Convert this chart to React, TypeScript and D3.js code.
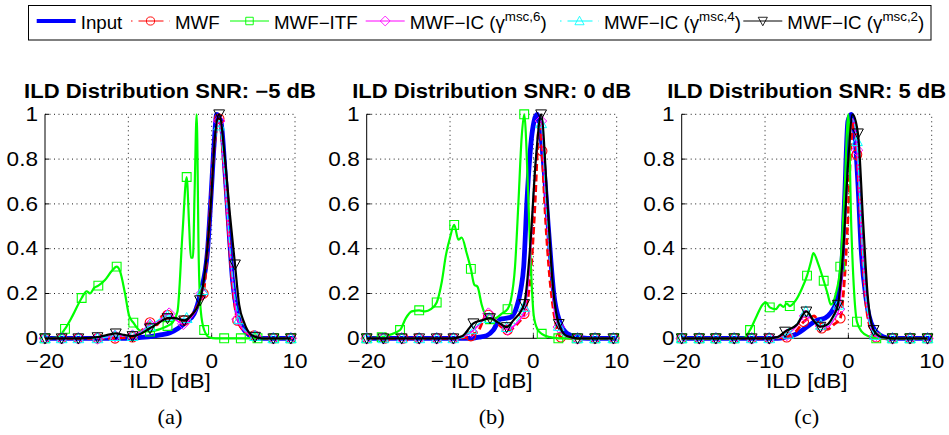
import React from 'react';
import * as d3 from 'd3';

type Pt = number[]; // [x, y, marker?]

// ---------- texts & ticks ----------
const xTickValues = [-20, -10, 0, 10];
const xTickLabels = ['\u221220', '\u221210', '0', '10'];
const yTickValues = [0, 0.2, 0.4, 0.6, 0.8, 1];
const yTickLabels = ['0', '0.2', '0.4', '0.6', '0.8', '1'];
const panelTitles = [
  'ILD Distribution SNR: \u22125 dB',
  'ILD Distribution SNR: 0 dB',
  'ILD Distribution SNR: 5 dB',
];
const panelCaptions = ['(a)', '(b)', '(c)'];
const xAxisLabel = 'ILD [dB]';
const seriesNames = ['Input', 'MWF', 'MWF\u2212ITF', 'MWF\u2212IC (\u03b3', 'MWF\u2212IC (\u03b3', 'MWF\u2212IC (\u03b3'];
const seriesSuperscripts = ['', '', '', 'msc,6', 'msc,4', 'msc,2'];

// ---------- data: panel (a) SNR -5 dB ----------  [x, y, 1 = marker]
const inputA: Pt[] = [[-20,0],[-10,0],[-9,0.002],[-8,0.005],[-7,0.01],[-6,0.016],[-5,0.025],[-4,0.045],[-3,0.075],[-2.1,0.11],[-1.3,0.21],[-0.5,0.39],[-0.1,0.62],[0.3,0.87],[0.6,1.0],[1.1,0.97],[1.7,0.69],[2.1,0.47],[2.5,0.26],[3.1,0.11],[3.9,0.037],[5.1,0.005],[6,0],[10,0]];
const mwfA: Pt[] = [[-20,0,1],[-18,0,1],[-16,0,1],[-13.7,0,1],[-11.6,0,1],[-10.5,0.003],[-9.5,0.005,1],[-8.5,0.03],[-7.4,0.07,1],[-6.6,0.06],[-5.9,0.1],[-5.3,0.104,1],[-4.5,0.09],[-3.8,0.08],[-3.3,0.08,1],[-2.5,0.1],[-1.6,0.15],[-1.0,0.2,1],[-0.4,0.45],[0.3,0.85],[0.9,0.98,1],[1.5,0.75],[2.0,0.48],[2.5,0.24],[3.1,0.08,1],[4.0,0.03],[5.1,0.012,1],[6,0.002],[7.4,0,1],[9.5,0,1],[10,0]];
const itfA: Pt[] = [[-20,0,1],[-18.6,0.003],[-17.6,0.042,1],[-16.7,0.1],[-15.6,0.18,1],[-15,0.21],[-14.6,0.2],[-14.1,0.225],[-13.6,0.235,1],[-12.8,0.26],[-12,0.3],[-11.4,0.32,1],[-11,0.3],[-10.4,0.2],[-9.9,0.1],[-9.4,0.07,1],[-8.6,0.035],[-7.4,0.03,1],[-6.3,0.04],[-5.3,0.055,1],[-4.7,0.07],[-4.1,0.12],[-3.5,0.47],[-3.0,0.72,1],[-2.7,0.5],[-2.5,0.36],[-2.25,0.36],[-2.05,0.65],[-1.8,1.0],[-1.55,0.35],[-1.3,0.12],[-0.9,0.037,1],[-0.3,0.005],[0.5,0],[1.5,0,1],[3.5,0,1],[5.5,0,1],[7.5,0,1],[9.5,0,1]];
const ic6A: Pt[] = [[-20,0,1],[-18,0,1],[-16,0,1],[-13.7,0,1],[-12.5,0.005],[-11.6,0.01,1],[-10.5,0.01],[-9.5,0.012,1],[-8.5,0.03],[-7.4,0.06,1],[-6.3,0.08],[-5.1,0.11,1],[-4.2,0.08],[-3.4,0.065,1],[-2.5,0.09],[-1.2,0.2,1],[-0.4,0.45],[0.3,0.85],[0.9,0.97,1],[1.5,0.75],[2,0.48],[2.5,0.25],[3.1,0.085,1],[4,0.03],[5.2,0.01,1],[6,0.002],[7.4,0,1],[9.5,0,1],[10,0]];
const ic4A: Pt[] = [[-20,0,1],[-18,0,1],[-16,0,1],[-13.7,0,1],[-11.6,0.01,1],[-9.5,0.01,1],[-7.4,0.055,1],[-5.3,0.1,1],[-4.2,0.085],[-3.0,0.09,1],[-2.2,0.11],[-1.1,0.215,1],[-0.4,0.45],[0.3,0.85],[0.9,0.95,1],[1.5,0.76],[2,0.5],[2.5,0.27],[3.3,0.085,1],[4,0.035],[5.2,0.01,1],[6,0.002],[7.4,0,1],[9.5,0,1]];
const ic2A: Pt[] = [[-20,0,1],[-18,0,1],[-16,0,1],[-14.5,0.002],[-13.7,0.005,1],[-12.5,0.015],[-11.5,0.022,1],[-10.5,0.015],[-9.5,0.01,1],[-8.5,0.02],[-7.4,0.045,1],[-6.3,0.07],[-5.3,0.09,1],[-4.4,0.09],[-3.3,0.08,1],[-2.5,0.1],[-1.4,0.17,1],[-0.8,0.3],[-0.1,0.6],[0.4,0.9],[0.9,1.0,1],[1.6,0.8],[2.2,0.55],[2.8,0.33,1],[3.3,0.15],[3.9,0.07],[4.6,0.02],[5.2,0.007,1],[6,0],[7.4,0,1],[9.5,0,1]];

// ---------- data: panel (b) SNR 0 dB ----------
const inputB: Pt[] = [[-20,0],[-7.5,0],[-6.5,0.005],[-5.6,0.012],[-4.8,0.037],[-4,0.085],[-3.2,0.09],[-2.7,0.095],[-2,0.14],[-1.5,0.22],[-1.16,0.32],[-0.76,0.62],[-0.16,0.915],[0.45,1.0],[1.25,0.77],[1.85,0.47],[2.45,0.2],[3.25,0.067],[4.05,0.022],[5.3,0.005],[6.5,0],[10,0]];
const mwfB: Pt[] = [[-20,0,1],[-17.8,0,1],[-15.6,0,1],[-13.8,0,1],[-11.6,0,1],[-9.6,0,1],[-8.5,0.002],[-7.5,0.01,1],[-6.5,0.04],[-5.9,0.09],[-5.4,0.104,1],[-4.6,0.08],[-3.8,0.05],[-3.1,0.037,1],[-2.5,0.045],[-1.8,0.07],[-1.1,0.11,1],[-0.3,0.3],[0.2,0.6],[0.6,0.92],[0.85,0.97],[1.05,0.836,1],[1.33,0.62],[1.85,0.32],[2.25,0.17],[2.85,0.04],[3.3,0.005,1],[4.5,0],[5.3,0,1],[7.4,0,1],[9.7,0,1]];
const itfB: Pt[] = [[-20,0,1],[-18.2,0.005,1],[-17.3,0.015],[-16.0,0.037,1],[-15.3,0.09],[-14.6,0.12],[-13.7,0.125,1],[-13,0.12],[-12.3,0.13],[-11.6,0.16,1],[-11,0.25],[-10.5,0.37],[-10,0.45],[-9.5,0.506,1],[-9,0.44],[-8.6,0.45],[-8,0.38],[-7.5,0.31,1],[-7.1,0.24],[-6.7,0.23],[-6.2,0.15],[-5.7,0.1],[-5.2,0.085,1],[-4.5,0.09],[-3.8,0.11],[-3.1,0.13,1],[-2.7,0.17],[-2.2,0.32],[-1.8,0.6],[-1.4,0.9],[-1.1,1.0,1],[-0.6,0.62],[-0.3,0.32],[0.05,0.1],[0.5,0.04],[1.0,0.02,1],[2,0.005],[3.0,0,1],[5.2,0,1],[7.4,0,1],[9.7,0,1]];
const ic6B: Pt[] = [[-20,0,1],[-18,0,1],[-15.8,0,1],[-13.7,0,1],[-11.6,0,1],[-9.6,0,1],[-8.5,0.005],[-7.4,0.03,1],[-6.3,0.07],[-5.4,0.11,1],[-4.5,0.08],[-3.1,0.04,1],[-2.2,0.06],[-1.1,0.12,1],[-0.4,0.35],[0.2,0.75],[0.9,0.97,1],[1.5,0.6],[2.1,0.3],[2.6,0.1],[3.05,0.05,1],[3.8,0.01],[5.3,0,1],[7.4,0,1],[9.6,0,1]];
const ic4B: Pt[] = [[-20,0,1],[-18,0,1],[-15.8,0,1],[-13.7,0,1],[-11.6,0,1],[-9.6,0,1],[-8.3,0.005],[-7.4,0.04,1],[-6.3,0.07],[-5.3,0.09,1],[-4.4,0.08],[-3.2,0.05,1],[-2.2,0.07],[-1.1,0.14,1],[-0.4,0.4],[0.2,0.78],[0.93,0.96,1],[1.5,0.62],[2.1,0.3],[2.6,0.12],[3.05,0.055,1],[3.8,0.01],[5.3,0,1],[7.4,0,1],[9.6,0,1]];
const ic2B: Pt[] = [[-20,0,1],[-18,0,1],[-15.8,0,1],[-13.7,0,1],[-11.6,0,1],[-9.6,0,1],[-8.5,0.01],[-7.2,0.067,1],[-6.2,0.08],[-5.2,0.09,1],[-4.2,0.07],[-3.2,0.05,1],[-2.4,0.08],[-1.1,0.153,1],[-0.4,0.4],[0.3,0.8],[0.93,1.0,1],[1.7,0.6],[2.3,0.25],[3.05,0.064,1],[4,0.01],[5.3,0,1],[7.4,0,1],[9.6,0,1]];

// ---------- data: panel (c) SNR 5 dB ----------
const inputC: Pt[] = [[-20,0],[-8.5,0],[-7.4,0.007],[-6.2,0.02],[-5,0.05],[-3.8,0.08],[-2.8,0.09],[-2.2,0.11],[-1.4,0.17],[-0.8,0.32],[-0.45,0.62],[-0.05,0.97],[0.35,1.0],[0.8,0.9],[1.15,0.69],[1.55,0.39],[2.15,0.17],[2.95,0.05],[4.15,0.007],[5,0],[10,0]];
const mwfC: Pt[] = [[-20,0,1],[-17.9,0,1],[-15.9,0,1],[-13.7,0,1],[-11.6,0,1],[-9.5,0,1],[-8.5,0.002],[-7.4,0.005,1],[-6.3,0.03],[-5.36,0.074,1],[-4.7,0.09],[-4.1,0.1],[-3.6,0.07],[-3.2,0.045,1],[-2.5,0.04],[-1.8,0.06],[-0.97,0.09,1],[-0.6,0.2],[-0.1,0.5],[0.3,0.85],[0.7,0.97],[1.03,0.82,1],[1.5,0.5],[2.0,0.2],[2.6,0.05],[3.35,0.005,1],[4.5,0],[5.3,0,1],[7.4,0,1],[9.5,0,1]];
const itfC: Pt[] = [[-20,0,1],[-17.9,0,1],[-15.9,0,1],[-13.7,0,1],[-12.5,0.002],[-11.8,0.037,1],[-11,0.1],[-10.3,0.15],[-9.9,0.16],[-9.43,0.138,1],[-8.7,0.13],[-8.2,0.15],[-7.8,0.14],[-7.4,0.155],[-7.03,0.144,1],[-6.3,0.17],[-5.6,0.22],[-4.96,0.28,1],[-4.5,0.34],[-4.2,0.38],[-3.6,0.33],[-2.96,0.257,1],[-2.5,0.2],[-2.1,0.15],[-1.5,0.2],[-0.97,0.32,1],[-0.5,0.62],[0,1.0],[0.35,0.5],[0.7,0.2],[1.03,0.074,1],[1.6,0.03],[2.5,0.008],[3.35,0,1],[5.3,0,1],[7.4,0,1],[9.5,0,1]];
const ic6C: Pt[] = [[-20,0,1],[-17.9,0,1],[-15.9,0,1],[-13.7,0,1],[-11.6,0,1],[-9.5,0,1],[-8.3,0.003],[-7.4,0.015,1],[-6.3,0.05],[-5.2,0.1,1],[-4.5,0.09],[-3.3,0.055,1],[-2.5,0.05],[-1.8,0.08],[-1.1,0.13,1],[-0.5,0.45],[0.2,0.9],[0.5,0.98],[1.03,0.84,1],[1.5,0.5],[2.0,0.22],[2.6,0.06],[3.2,0.01,1],[4.5,0],[5.3,0,1],[7.4,0,1],[9.5,0,1]];
const ic4C: Pt[] = [[-20,0,1],[-17.9,0,1],[-15.9,0,1],[-13.7,0,1],[-11.6,0,1],[-9.5,0,1],[-8.3,0.003],[-7.2,0.02,1],[-6.3,0.06],[-5.1,0.12,1],[-4.3,0.09],[-3.3,0.06,1],[-2.5,0.06],[-1.8,0.09],[-1.2,0.15,1],[-0.5,0.45],[0.2,0.9],[0.5,0.98],[1.03,0.88,1],[1.5,0.52],[2.0,0.22],[2.6,0.06],[3.2,0.015,1],[4.5,0],[5.3,0,1],[7.4,0,1],[9.5,0,1]];
const ic2C: Pt[] = [[-20,0,1],[-17.9,0,1],[-15.9,0,1],[-13.7,0,1],[-11.6,0,1],[-9.5,0,1],[-8.5,0.005],[-7.6,0.03,1],[-6.2,0.06],[-5.04,0.12,1],[-4.2,0.08],[-3.36,0.052,1],[-2.6,0.06],[-1.8,0.1],[-1.25,0.15,1],[-0.6,0.4],[0,0.8],[0.5,1.0],[1.15,0.915,1],[1.8,0.5],[2.3,0.2],[3.03,0.037,1],[4,0.005],[5.3,0,1],[7.4,0,1],[9.5,0,1]];

const panelSeries: Pt[][][] = [
  [inputA, mwfA, itfA, ic6A, ic4A, ic2A],
  [inputB, mwfB, itfB, ic6B, ic4B, ic2B],
  [inputC, mwfC, itfC, ic6C, ic4C, ic2C],
];

// ---------- styles & layout ----------
type Marker = 'none' | 'circle' | 'square' | 'diamond' | 'triUp' | 'triDown';
const STYLES: { color: string; width: number; dash?: string; marker: Marker; mw: number; lw: number; ldash?: string }[] = [
  { color: '#0000ff', width: 4.8, marker: 'none', mw: 1, lw: 4 },
  { color: '#ff0000', width: 2.8, dash: '7 3.5', marker: 'circle', mw: 1.1, lw: 1, ldash: '1.5 6 25 6 1.5' },
  { color: '#00ff00', width: 2.2, marker: 'square', mw: 1.1, lw: 1 },
  { color: '#ff00ff', width: 1.5, marker: 'diamond', mw: 1, lw: 1 },
  { color: '#00ffff', width: 1.2, dash: '6 2 1.5 2', marker: 'triUp', mw: 1, lw: 1, ldash: '1.5 6 25 6 1.5' },
  { color: '#000000', width: 2.2, marker: 'triDown', mw: 1, lw: 1 },
];

const FONT = '"Liberation Sans", Arial, Helvetica, sans-serif';
const SERIF = '"Liberation Serif", "Times New Roman", serif';
const SX = 1.13;
const TICK_SIZE = 20;
const PANEL_LEFT = [45, 366.7, 681.7];
const PANEL_W = 250;
const PLOT_TOP = 114.3;
const PLOT_BOTTOM = 338.3;
const LEGEND = { x0: 28.5, x1: 931, y0: 5.5, y1: 40, lineY: 21, textY: 28.5 };
const LEGEND_STARTS = [36.7, 131, 230, 365.7, 560, 743.3];
const LEGEND_LINE = 39;

function markerPath(m: Marker): string {
  switch (m) {
    case 'circle': return 'M4.8,0A4.8,4.8 0 1 1 -4.8,0A4.8,4.8 0 1 1 4.8,0Z';
    case 'square': return 'M-4.4,-4.4H4.4V4.4H-4.4Z';
    case 'diamond': return 'M0,-5.8L5.8,0L0,5.8L-5.8,0Z';
    case 'triUp': return 'M0,-5.6L5.4,4.4L-5.4,4.4Z';
    case 'triDown': return 'M0,5.6L5.4,-4.4L-5.4,-4.4Z';
    default: return '';
  }
}

function T(props: { x: number; y: number; anchor?: string; size?: number; weight?: string | number; family?: string; sx?: number; dy?: string; children: React.ReactNode }) {
  const { x, y, anchor = 'middle', size = TICK_SIZE, weight = 'normal', family = FONT, sx = SX, dy, children } = props;
  return (
    <text transform={`translate(${x},${y}) scale(${sx},1)`} textAnchor={anchor as any} fontSize={size} fontWeight={weight as any} fontFamily={family} dy={dy} fill="#000">
      {children}
    </text>
  );
}

function Panel({ i }: { i: number }) {
  const x0 = PANEL_LEFT[i];
  const xs = d3.scaleLinear().domain([-20, 10]).range([x0, x0 + PANEL_W]);
  const ys = d3.scaleLinear().domain([0, 1]).range([PLOT_BOTTOM, PLOT_TOP]);
  const line = d3.line<Pt>().x(d => xs(d[0])).y(d => ys(d[1])).curve(d3.curveMonotoneX);
  const clipId = `clip-${i}`;
  const cx = (xs(-20) + xs(10)) / 2;
  return (
    <g>
      <defs>
        <clipPath id={clipId}>
          <rect x={xs(-20) - 4} y={ys(1) - 3} width={xs(10) - xs(-20) + 8} height={ys(0) - ys(1) + 7} />
        </clipPath>
      </defs>
      {/* grid */}
      {xTickValues.filter(v => v !== -20).map(v => (
        <line key={'gx' + v} x1={xs(v)} x2={xs(v)} y1={ys(0)} y2={ys(1)} stroke="#000" strokeWidth={0.9} strokeDasharray="1 3.5" />
      ))}
      {yTickValues.filter(v => v !== 0).map(v => (
        <line key={'gy' + v} x1={xs(-20)} x2={xs(10)} y1={ys(v)} y2={ys(v)} stroke="#000" strokeWidth={0.9} strokeDasharray="1 3.5" />
      ))}
      {/* axes */}
      <line x1={xs(-20)} x2={xs(-20)} y1={ys(0)} y2={ys(1)} stroke="#000" strokeWidth={1} />
      <line x1={xs(-20)} x2={xs(10)} y1={ys(0)} y2={ys(0)} stroke="#000" strokeWidth={1} />
      {yTickValues.map(v => (
        <line key={'ty' + v} x1={xs(-20)} x2={xs(-20) + 4} y1={ys(v)} y2={ys(v)} stroke="#000" strokeWidth={1} />
      ))}
      {xTickValues.map(v => (
        <line key={'tx' + v} x1={xs(v)} x2={xs(v)} y1={ys(0)} y2={ys(0) - 4} stroke="#000" strokeWidth={1} />
      ))}
      {/* series */}
      {panelSeries[i].map((data, s) => {
        const st = STYLES[s];
        return (
          <g key={'s' + s}>
            <path d={line(data) || ''} fill="none" stroke={st.color} strokeWidth={st.width} strokeDasharray={st.dash} strokeLinejoin="round" clipPath={`url(#${clipId})`} />
            {st.marker !== 'none' && data.filter(d => d[2] === 1).map((d, k) => (
              <path key={k} d={markerPath(st.marker)} transform={`translate(${xs(d[0])},${ys(d[1])})`} fill="none" stroke={st.color} strokeWidth={st.mw} />
            ))}
          </g>
        );
      })}
      {/* tick labels */}
      {yTickValues.map((v, k) => (
        <T key={'ly' + v} x={xs(-20) - 7} y={ys(v)} anchor="end" dy="0.33em">{yTickLabels[k]}</T>
      ))}
      {xTickValues.map((v, k) => (
        <T key={'lx' + v} x={xs(v)} y={368}>{xTickLabels[k]}</T>
      ))}
      <T x={cx} y={387.5}>{xAxisLabel}</T>
      <T x={cx} y={98} weight="bold" size={19.5}>{panelTitles[i]}</T>
      <T x={cx} y={424} family={SERIF} size={20} sx={1.12}>{panelCaptions[i]}</T>
    </g>
  );
}

function Legend() {
  return (
    <g>
      <rect x={LEGEND.x0} y={LEGEND.y0} width={LEGEND.x1 - LEGEND.x0} height={LEGEND.y1 - LEGEND.y0} fill="#fff" stroke="#000" strokeWidth={1} />
      {STYLES.map((st, s) => {
        const lx = LEGEND_STARTS[s];
        const mx = lx + LEGEND_LINE / 2;
        return (
          <g key={'lg' + s}>
            <line x1={lx} x2={lx + LEGEND_LINE} y1={LEGEND.lineY} y2={LEGEND.lineY} stroke={st.color} strokeWidth={st.lw} strokeDasharray={st.ldash} />
            {st.marker !== 'none' && (
              <path d={markerPath(st.marker)} transform={`translate(${mx},${LEGEND.lineY}) scale(0.85)`} fill="none" stroke={st.color} strokeWidth={st.mw} />
            )}
            <text transform={`translate(${lx + LEGEND_LINE + 5},${LEGEND.textY}) scale(1.07,1)`} fontFamily={FONT} fontSize={17.5} fill="#000">
              {seriesNames[s]}
              {seriesSuperscripts[s] && (
                <>
                  <tspan fontSize={12.5} dy={-8}>{seriesSuperscripts[s]}</tspan>
                  <tspan dy={8}>)</tspan>
                </>
              )}
            </text>
          </g>
        );
      })}
    </g>
  );
}

export default function App() {
  const W = 949, H = 435;
  return (
    <svg width={W} height={H} viewBox={`0 0 ${W} ${H}`} style={{ position: 'absolute', left: 0, top: 0, background: '#fff' }}>
      <rect width={W} height={H} fill="#fff" />
      <Legend />
      {[0, 1, 2].map(i => <Panel key={i} i={i} />)}
    </svg>
  );
}
